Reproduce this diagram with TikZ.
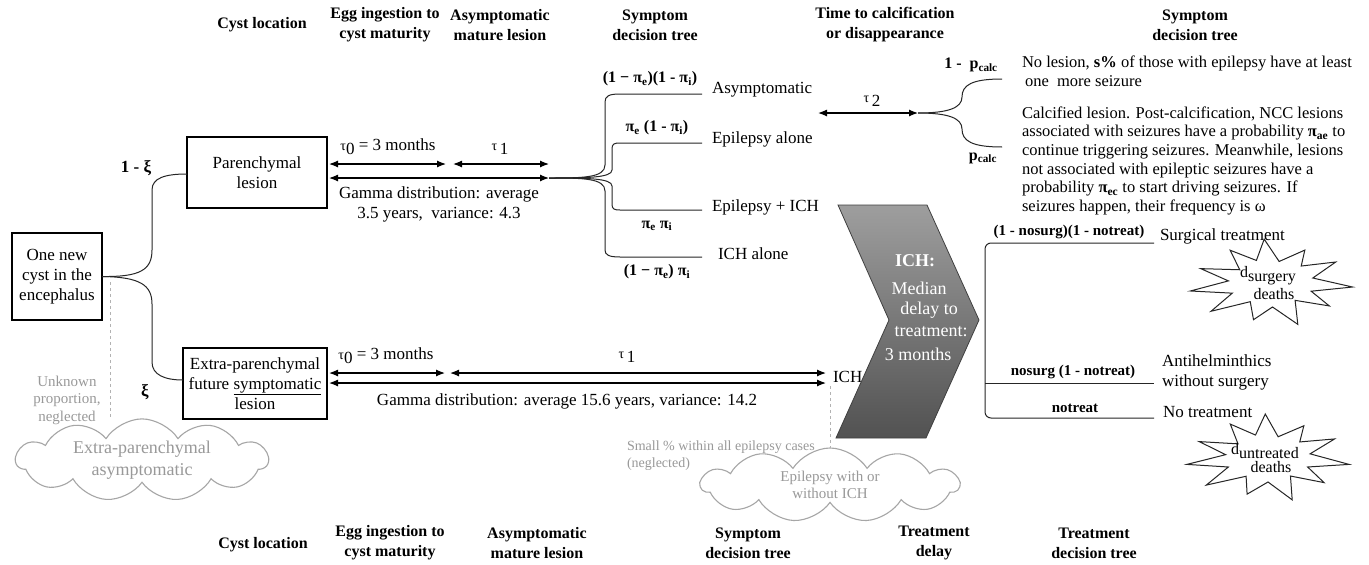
\documentclass[tikz,border=0pt]{standalone}
\usepackage{fontspec}
\setmainfont{Liberation Serif}
\usetikzlibrary{arrows.meta,shapes.symbols,shapes.geometric}
\begin{document}
\begin{tikzpicture}[x=1pt,y=-1pt,
  every node/.style={inner sep=0pt, outer sep=0pt},
  hdr/.style={font=\fontsize{16}{20}\selectfont\bfseries, align=center},
  body/.style={font=\fontsize{17}{20}\selectfont},
  rtext/.style={font=\fontsize{16.5}{18.7}\selectfont, anchor=base west},
  boxn/.style={draw, line width=1.4pt, align=center, font=\fontsize{17}{20}\selectfont},
  lbl/.style={font=\fontsize{16}{18}\selectfont\bfseries},
  tlbl/.style={font=\fontsize{15}{18}\selectfont\bfseries},
  dbl/.style={line width=1.2pt, {Latex[length=9pt,width=7pt]}-{Latex[length=9pt,width=7pt]}},
  tree/.style={line width=1pt, draw=black!85},
  greytxt/.style={text=black!40, font=\fontsize{14}{17}\selectfont},
  greydash/.style={draw=black!30, dashed, line width=0.8pt},
  cloudn/.style={cloud, cloud puffs=11, cloud puff arc=115, cloud ignores aspect, draw=black!35, line width=1.1pt, text=black!40, align=center, inner sep=0pt},
  starline/.style={draw=black!85, line width=1pt, fill=white},
  startext/.style={font=\fontsize{16}{16}\selectfont, align=center},
  chevtext/.style={text=white, font=\fontsize{18}{20}\selectfont}
]
\useasboundingbox[fill=white] (0,0) rectangle (1369,565);

% ---------- headers top ----------
\node[hdr] (h1) at (262,25) {Cyst location};
\node[hdr] (h2) at (385,25) {Egg ingestion to\\cyst maturity};
\node[hdr] (h3) at (500,25) {Asymptomatic\\mature lesion};
\node[hdr] (h4) at (655,25) {Symptom\\decision tree};
\node[hdr] (h5) at (885,25) {Time to calcification\\or disappearance};
\node[hdr] (h6) at (1195,25) {Symptom\\decision tree};
% ---------- headers bottom ----------
\node[hdr] (b1) at (263,545) {Cyst location};
\node[hdr] (b2) at (390,543) {Egg ingestion to\\cyst maturity};
\node[hdr] (b3) at (537,543) {Asymptomatic\\mature lesion};
\node[hdr] (b4) at (748,543) {Symptom\\decision tree};
\node[hdr] (b5) at (934,543) {Treatment\\delay};
\node[hdr] (b6) at (1094,543) {Treatment\\decision tree};

% ---------- boxes ----------
\node[boxn, minimum width=90pt, minimum height=87pt] (cyst) at (57,276.5) {One new\\cyst in the\\encephalus};
\node[boxn, minimum width=140pt, minimum height=71pt] (par) at (257,172.5) {Parenchymal\\lesion};
\node[boxn, minimum width=144pt, minimum height=71pt] (extra) at (255,383.5) {Extra-parenchymal\\future \underline{symptomatic}\\lesion};

% split
\draw[tree] (cyst.east) .. controls (140,277) and (152,270) .. (152,250) -- (152,190) .. controls (152,178) and (165,174) .. (par.west |- 0,174);
\draw[tree] (cyst.east) .. controls (140,277) and (152,285) .. (152,304) -- (152,362) .. controls (152,375) and (165,380) .. (extra.west |- 0,380);
\node[font=\fontsize{17}{20}\selectfont\bfseries] (xi1) at (136,168) {1 - ξ};
\node[font=\fontsize{17}{20}\selectfont\bfseries] (xi2) at (145,392) {ξ};

% unknown proportion
\coordinate (dA) at (110,282);
\node[cloudn, font=\fontsize{18}{22}\selectfont, minimum width=252pt, minimum height=64pt] (cl1) at (142,460) {Extra-parenchymal\\asymptomatic};
\draw[greydash] (dA) -- (dA |- cl1.north);
\node[greytxt, align=center, font=\fontsize{15}{17.5}\selectfont] (unk) at (67,400) {Unknown\\proportion,\\neglected};

% ---------- parenchymal arrows ----------
\coordinate (p0a) at (329,164); \coordinate (p0b) at (446,164);
\coordinate (p1a) at (453,164); \coordinate (p1b) at (549,164);
\coordinate (pla) at (329,178); \coordinate (conv) at (549,178);
\draw[dbl] (p0a) -- (p0b);
\draw[dbl] (p1a) -- (p1b);
\draw[dbl] (pla) -- (conv);
\node[body] (t0p) at (388,147) {{\fontsize{14}{14}\selectfont τ}\raisebox{-4pt}{0} = 3 months};
\node[body] (t1p) at (500,149) {{\fontsize{14}{14}\selectfont τ}\,\raisebox{-4pt}{1}};
\node[body, align=center] (gp) at (439,204) {Gamma distribution: average\\3.5 years,\ \ variance: 4.3};

% ---------- symptom tree ----------
\coordinate (e1) at (702,94);
\coordinate (e2) at (702,143);
\coordinate (e3) at (702,210);
\coordinate (e4) at (702,257);
\draw[tree] (conv) .. controls (582,178) and (605,178) .. (605,165) -- (605,102) .. controls (605,96) and (609,94) .. (620,94) -- (e1);
\draw[tree] (conv) .. controls (585,178) and (612,178) .. (612,170) -- (612,149) .. controls (612,144) and (614,143) .. (620,143) -- (e2);
\draw[tree] (conv) .. controls (585,178) and (612,178) .. (612,186) -- (612,204) .. controls (612,209) and (614,210) .. (620,210) -- (e3);
\draw[tree] (conv) .. controls (582,178) and (605,178) .. (605,191) -- (605,250) .. controls (605,255) and (609,257) .. (620,257) -- (e4);
\node[lbl] (l1) at (650,79) {(1 − π\textsubscript{e})(1 - π\textsubscript{i})};
\node[lbl] (l2) at (657,128) {π\textsubscript{e} (1 - π\textsubscript{i})};
\node[lbl] (l3) at (657,226) {π\textsubscript{e} π\textsubscript{i}};
\node[lbl] (l4) at (657,272) {(1 − π\textsubscript{e}) π\textsubscript{i}};
\node[body, anchor=west] (o1) at (712,90) {Asymptomatic};
\node[body, anchor=west] (o2) at (712,139) {Epilepsy alone};
\node[body, anchor=west] (o3) at (712,207) {Epilepsy + ICH};
\node[body, anchor=west] (o4) at (718,254) {ICH alone};

% ---------- calcification ----------
\coordinate (c1) at (818,113);
\coordinate (c2) at (918,113);
\coordinate (cu) at (1002,79);
\coordinate (cd) at (1002,147);
\draw[dbl] (c1) -- (c2);
\node[body] (t2) at (872,101) {{\fontsize{14}{14}\selectfont τ}\,\raisebox{-4pt}{2}};
\draw[tree] (c2) .. controls (948,113) and (962,108) .. (962,97) .. controls (962,85) and (972,79) .. (cu);
\draw[tree] (c2) .. controls (948,113) and (962,118) .. (962,129) .. controls (962,141) and (972,147) .. (cd);
\node[lbl] (pc1) at (971,65) {1 -\ \ p\textsubscript{calc}};
\node[lbl] (pc2) at (983,158) {p\textsubscript{calc}};

\node[rtext] (r1) at (1022,67) {No lesion, \textbf{s\%} of those with epilepsy have at least};
\node[rtext] (r2) at (1025,86) {one\ \ more seizure};
\node[rtext] (r3) at (1022,118) {Calcified lesion. Post-calcification, NCC lesions};
\node[rtext] (r4) at (1022,136.7) {associated with seizures have a probability \textbf{π\textsubscript{ae}} to};
\node[rtext] (r5) at (1022,155.4) {continue triggering seizures. Meanwhile, lesions};
\node[rtext] (r6) at (1022,174) {not associated with epileptic seizures have a};
\node[rtext] (r7) at (1022,192.8) {probability \textbf{π\textsubscript{ec}} to start driving seizures. If};
\node[rtext] (r8) at (1022,211.5) {seizures happen, their frequency is ω};

% ---------- extra-parenchymal arrows ----------
\coordinate (x0a) at (329,373); \coordinate (x0b) at (445,373);
\coordinate (x1a) at (450,373); \coordinate (x1b) at (826,373);
\coordinate (xla) at (329,383); \coordinate (xlb) at (826,383);
\draw[dbl] (x0a) -- (x0b);
\draw[dbl] (x1a) -- (x1b);
\draw[dbl] (xla) -- (xlb);
\node[body] (t0x) at (386,356) {{\fontsize{14}{14}\selectfont τ}\raisebox{-4pt}{0} = 3 months};
\node[body] (t1x) at (627,357) {{\fontsize{14}{14}\selectfont τ}\,\raisebox{-4pt}{1}};
\node[body, anchor=west] (ich) at (833,377) {ICH};
\node[body] (gx) at (567,401) {Gamma distribution: average 15.6 years, variance: 14.2};

\coordinate (dB) at (830,386);
\node[cloudn, minimum width=258pt, minimum height=74pt] (cl2) at (830,485) {};
\node[text=black!40, align=center, font=\fontsize{15}{17}\selectfont] (cl2t) at (cl2.center) {Epilepsy with or\\without ICH};
\draw[greydash] (dB) -- (dB |- cl2.north);
\node[greytxt, anchor=base west] (sm1) at (627,450) {Small \% within all epilepsy cases};
\node[greytxt, anchor=base west] (sm2) at (627,467) {(neglected)};

% ---------- chevron ----------
\path[draw=black!75, line width=0.8pt, top color=black!38, bottom color=black!68]
  (838,205) -- (927,205) -- (979,320) -- (926,438) -- (836,438) -- (889,320) -- cycle;
\node[chevtext, font=\fontsize{18}{20}\selectfont\bfseries] (d1) at (915,261) {ICH:};
\node[chevtext] (d2) at (919,288) {Median};
\node[chevtext] (d3) at (929,310) {delay to};
\node[chevtext] (d4) at (931,332) {treatment:};
\node[chevtext] (d5) at (918,354) {3 months};

% ---------- treatment tree ----------
\coordinate (s1) at (1154,243);
\coordinate (s2) at (1154,383);
\coordinate (s3) at (1154,418);
\draw[tree, rounded corners=6pt] (s1) -- (985,243) -- (985,418) -- (s3);
\draw[tree] (985,383) -- (s2);
\node[tlbl] (q1) at (1069,232) {(1 - nosurg)(1 - notreat)};
\node[tlbl] (q2) at (1073,372) {nosurg (1 - notreat)};
\node[tlbl] (q3) at (1075,408) {notreat};
\node[body, anchor=west] (u1) at (1160,236) {Surgical treatment};
\node[body, anchor=west, align=left] (u2) at (1162,372) {Antihelminthics\\without surgery};
\node[body, anchor=west] (u3) at (1163,412) {No treatment};

% ---------- starbursts ----------
\begin{scope}[shift={(1271,283)}, xscale=1.78]
\draw[starline] (5:46) -- (20:24) -- (35:40) -- (52:22) -- (70:44) -- (88:24) -- (105:38) -- (122:22) -- (140:44) -- (155:24) -- (170:46) -- (185:24) -- (200:42) -- (217:22) -- (235:40) -- (250:24) -- (265:44) -- (282:22) -- (300:38) -- (315:24) -- (330:42) -- (348:24) -- cycle;
\end{scope}
\node[startext] (ds) at (1268,283) {d\raisebox{-4pt}{surgery}\\[2pt]\hspace*{12pt}deaths};
\begin{scope}[shift={(1268,458)}, xscale=1.78]
\draw[starline] (8:46) -- (22:24) -- (38:40) -- (55:22) -- (72:44) -- (90:24) -- (108:38) -- (124:22) -- (142:44) -- (158:24) -- (172:46) -- (188:24) -- (203:42) -- (220:22) -- (238:40) -- (253:24) -- (268:44) -- (285:22) -- (302:38) -- (318:24) -- (333:42) -- (350:24) -- cycle;
\end{scope}
\node[startext] (du) at (1265,458) {d\raisebox{-4pt}{untreated}\\[2pt]\hspace*{12pt}deaths};
\end{tikzpicture}
\end{document}
